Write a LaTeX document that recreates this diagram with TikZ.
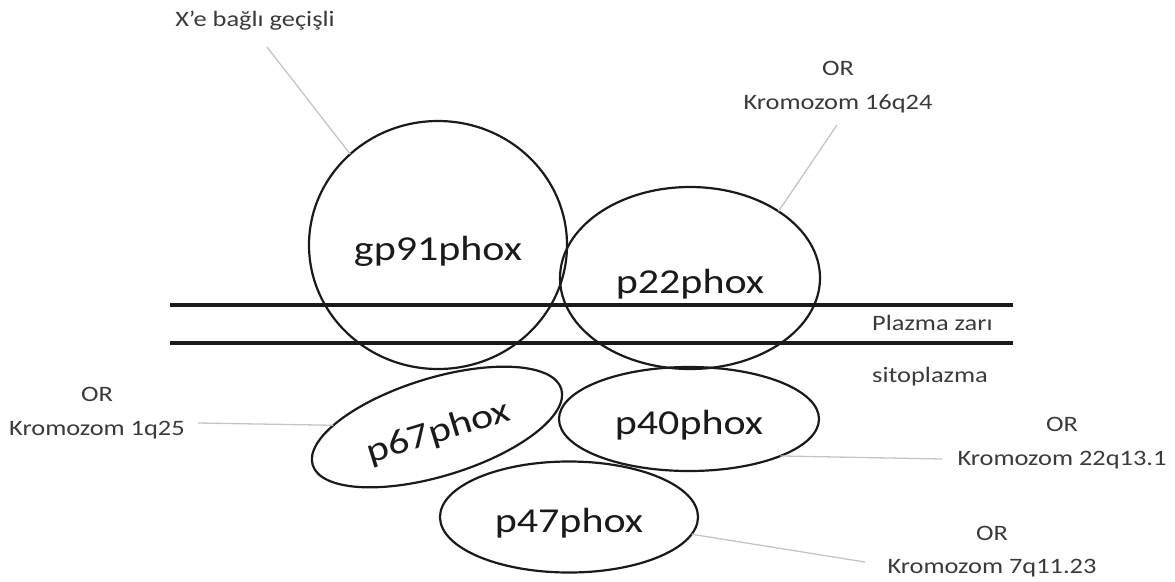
\documentclass[tikz,border=0pt]{standalone}
\usepackage{fontspec}
\setmainfont[FakeStretch=1.2]{Carlito}
\usetikzlibrary{shapes.geometric}
\definecolor{labelgray}{HTML}{3A3A3A}
\definecolor{conngray}{HTML}{C4C4C4}
\definecolor{inkblack}{HTML}{1A1A1A}
\begin{document}
\begin{tikzpicture}[x=1pt,y=-1pt,
  protein/.style={draw=inkblack, line width=2.2pt, ellipse, inner sep=0pt, outer sep=0pt,
    font=\fontsize{35}{42}\selectfont, text=inkblack, text height=30pt, text depth=0pt},
  lbl/.style={font=\fontsize{22}{33.5}\selectfont, text=labelgray, align=center, inner sep=0pt},
  conn/.style={draw=conngray, line width=1.3pt},
  membrane/.style={draw=inkblack, line width=3.5pt}]
\useasboundingbox (0,0) rectangle (1175,581);

% membrane
\coordinate (m1a) at (170,305);
\coordinate (m1b) at (1013,305);
\coordinate (m2a) at (170,343);
\coordinate (m2b) at (1013,343);
\draw[membrane] (m1a) -- (m1b);
\draw[membrane] (m2a) -- (m2b);

% proteins
\node[protein, minimum width=258pt, minimum height=248pt] (gp91) at (438,245) {gp91phox};
\node[protein, minimum width=260pt, minimum height=182pt] (p22) at (690,278) {p22phox};
\node[protein, minimum width=260pt, minimum height=98pt, rotate=17] (p67) at (437,427) {p67phox};
\node[protein, minimum width=260pt, minimum height=104pt] (p40) at (689,419) {p40phox};
\node[protein, minimum width=258pt, minimum height=111pt] (p47) at (569,517) {p47phox};

% labels
\node[lbl] (lX) at (255,21) {X’e bağlı geçişli};
\node[lbl] (l16) at (838,87) {OR\\Kromozom 16q24};
\node[lbl] (l1) at (97,413) {OR\\Kromozom 1q25};
\node[lbl] (l22) at (1062,443) {OR\\Kromozom 22q13.1};
\node[lbl] (l7) at (992,551.5) {OR\\Kromozom 7q11.23};
\node[lbl, anchor=west] (lpz) at (872,323) {Plazma zarı};
\node[lbl, anchor=west] (lsp) at (872,377) {sitoplazma};

% connectors
\coordinate (cX) at (267,47);
\coordinate (c16) at (837,125);
\coordinate (c1) at (198,423);
\coordinate (c22) at (942,459);
\coordinate (c7) at (865,562);
\draw[conn] (cX) -- (gp91.134);
\draw[conn] (c16) -- (p22.37);
\draw[conn] (c1) -- (p67);
\draw[conn] (p40.-22) -- (c22);
\draw[conn] (p47.-8) -- (c7);
\end{tikzpicture}
\end{document}
